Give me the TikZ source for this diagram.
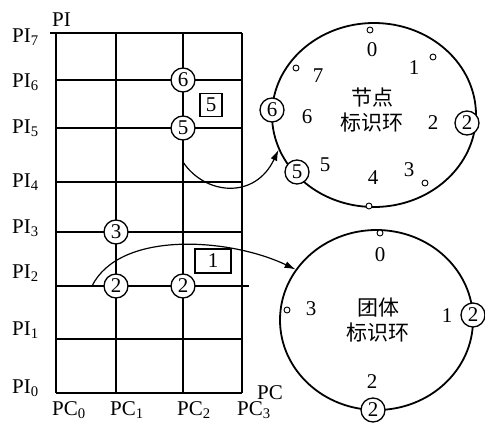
\documentclass[tikz,border=0pt]{standalone}
\usepackage{fontspec}
\setmainfont{Liberation Serif}
\newfontfamily\cjk{Noto Sans CJK SC}
\usetikzlibrary{arrows.meta,shapes.geometric}

\begin{document}
\begin{tikzpicture}[>={Latex[length=11pt,width=7pt]}, x=1pt, y=-1pt,
		font=\fontsize{21}{24}\selectfont,
		idc/.style={circle, draw, line width=1.3pt, fill=white, inner sep=0pt, minimum size=24pt},
		dotc/.style={circle, draw, line width=0.9pt, fill=white, inner sep=0pt, minimum size=6pt},
		tagbox/.style={draw, line width=1.2pt, inner sep=0pt, minimum height=23pt},
		ring/.style={ellipse, draw, line width=1.8pt, inner sep=0pt},
		ringtext/.style={align=center, font=\cjk\fontsize{21}{25.5}\selectfont},
		gridline/.style={line width=1.3pt}]
		\useasboundingbox (0,0) rectangle (485,426);
		\foreach \x in {56,116,183,242}
			\draw[gridline] (\x,33) -- (\x,393);
		\foreach \y in {80,128,182,232,339,393}
			\draw[gridline] (56,\y) -- (242,\y);
		\draw[gridline] (50,33) -- (242,33);
		\draw[gridline] (56,286) -- (249,286);
		\foreach \k/\b in {7/42,6/87,5/133,4/187,3/233,2/278,1/335,0/393}
			\node[anchor=base west, inner sep=0pt] (pi\k) at (12,\b) {PI\textsubscript{\k}};
		\foreach \k/\x in {0/52,1/110,2/177,3/237}
			\node[anchor=base west, inner sep=0pt] (pc\k) at (\x,415) {PC\textsubscript{\k}};
		\node[anchor=base west, inner sep=0pt] (pilabel) at (52,26) {PI};
		\node[anchor=base west, inner sep=0pt] (pclabel) at (257,399) {PC};
		\node[idc] (g6) at (183,80) {6};
		\node[idc] (g5) at (183,128) {5};
		\node[idc] (g3) at (116,232) {3};
		\node[idc] (g2a) at (116,286) {2};
		\node[idc] (g2b) at (183,286) {2};
		\node[tagbox, minimum width=22pt] (tag5) at (211,105) {5};
		\node[tagbox, minimum width=36pt, minimum height=24pt] (tag1) at (213,261) {1};
		\node[ring, minimum width=204pt, minimum height=184pt] (nodering) at (374,115) {};
		\node[ring, minimum width=193pt, minimum height=180pt] (groupring) at (376.5,320) {};
		\node[ringtext] (nodetext) at (372,110) {节点\\标识环};
		\node[ringtext] (grouptext) at (378,320) {团体\\标识环};
		\foreach \n/\x/\y in {0/372/50,1/414/68,7/318/76,6/307/117,2/433/123,5/325/165,4/373/178,3/409/170}
			\node (nr\n) at (\x,\y) {\n};
		\foreach \n/\x/\y in {0/370/30,1/433/57,7/296/68,3/425/183,4/369/206}
			\node[dotc] (nd\n) at (\x,\y) {};
		\node[idc] (r6) at (272,110) {6};
		\node[idc] (r2) at (467,123) {2};
		\node[idc] (r5) at (297,172) {5};
		\foreach \n/\x/\y in {0/380/255,3/311/309,1/447/316,2/372/382}
			\node (gr\n) at (\x,\y) {\n};
		\node[dotc] (gd0) at (380,233) {};
		\node[dotc] (gd3) at (287,310) {};
		\node[idc] (q1) at (473,315) {2};
		\node[idc] (q2) at (373,410) {2};
		\coordinate (from5) at (183,162);
		\coordinate (from2) at (92,286);
		\draw[line width=1.2pt, ->] (from5) .. controls (205,195) and (255,200) .. (nodering.200);
		\draw[line width=1.2pt, ->] (from2) .. controls (120,230) and (230,238) .. (groupring.148);
	\end{tikzpicture}
\end{document}
